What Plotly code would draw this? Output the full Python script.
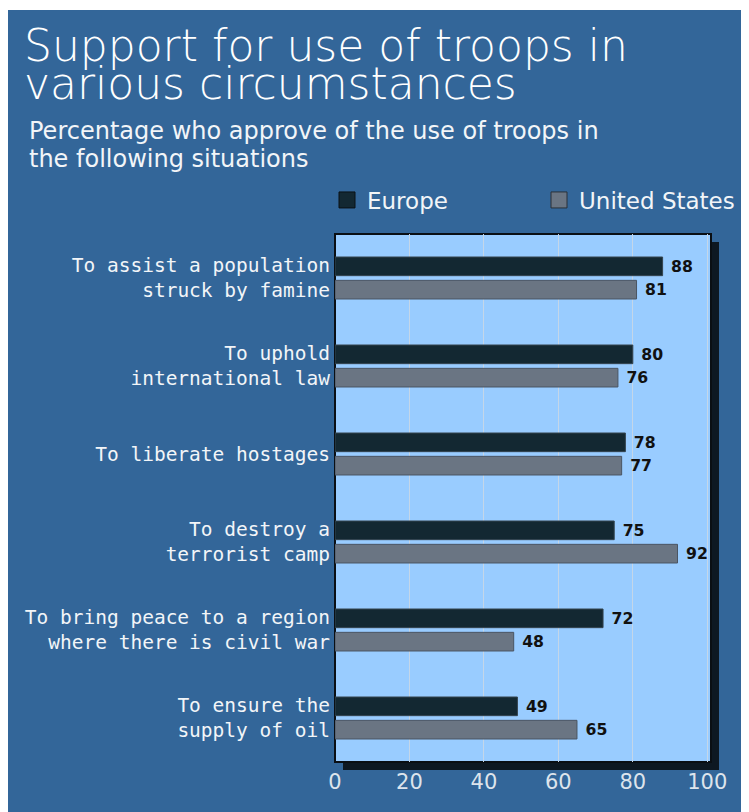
import plotly.graph_objects as go

categories = [
    "To assist a population<br>struck by famine",
    "To uphold<br>international law",
    "To liberate hostages",
    "To destroy a<br>terrorist camp",
    "To bring peace to a region<br>where there is civil war",
    "To ensure the<br>supply of oil",
]
europe = [88, 80, 78, 75, 72, 49]
united_states = [81, 76, 77, 92, 48, 65]
x_ticks = [0, 20, 40, 60, 80, 100]

W, H = 749, 812
OFF = 8  # page body margin
L, R, T, B = 335 - OFF, 711 - OFF, 234 - OFF, 762 - OFF  # plot area (figure px)

def px(x):  # reference pixel x -> paper
    return (x - OFF - L) / (R - L)

def py(y):  # reference pixel y -> paper
    return (B - (y - OFF)) / (B - T)

BG = "#336699"
PLOT_BG = "#99ccff"
EU_C = "#132832"
US_C = "#6a7583"
LABEL_FONT = dict(family="DejaVu Sans", size=16, color="#111111", weight="bold")

fig = go.Figure()
fig.add_trace(go.Bar(
    y=categories, x=europe, name="Europe", orientation="h", legendgroup="eu",
    showlegend=False,
    marker=dict(color=EU_C, line=dict(color="#34444f", width=1)),
    text=europe, texttemplate="\u00a0%{x}", textposition="outside", cliponaxis=False,
    textfont=LABEL_FONT,
))
fig.add_trace(go.Bar(
    y=categories, x=united_states, name="United States", orientation="h",
    legendgroup="us", showlegend=False,
    marker=dict(color=US_C, line=dict(color="#4a5563", width=1)),
    text=united_states, texttemplate="\u00a0%{x}", textposition="outside", cliponaxis=False,
    textfont=LABEL_FONT,
))
# legend entries (large square swatches)
fig.add_trace(go.Scatter(
    x=[None], y=[None], mode="markers", name="Europe", legendgroup="eu", legend="legend",
    marker=dict(symbol="square", size=22, color=EU_C, line=dict(color="#0a1015", width=1)),
))
fig.add_trace(go.Scatter(
    x=[None], y=[None], mode="markers", name="United States", legendgroup="us", legend="legend2",
    marker=dict(symbol="square", size=22, color=US_C, line=dict(color="#2a3038", width=1)),
))

shapes = [
    # shadow
    dict(type="rect", xref="paper", yref="paper", layer="below",
         x0=px(335 + 8), x1=px(711 + 8), y0=py(762 + 8), y1=py(234 + 8),
         fillcolor="#0d1822", line=dict(width=0)),
    # plot area
    dict(type="rect", xref="paper", yref="paper", layer="below",
         x0=0, x1=1, y0=0, y1=1,
         fillcolor=PLOT_BG, line=dict(color="#0a0f14", width=2)),
    # thin white strip at top
    dict(type="rect", xref="paper", yref="paper", layer="above",
         x0=px(0), x1=px(W + 20), y0=py(10), y1=py(0),
         fillcolor="white", line=dict(width=0)),
]

TITLE_FONT = dict(family="DejaVu Sans", size=44, color="white", weight=200)
SUB_FONT = dict(family="DejaVu Sans", size=24, color="#f2f5f8")
annotations = [
    dict(text="Support for use of troops in", xref="paper", yref="paper",
         x=px(22), y=py(45), xanchor="left", yanchor="middle", showarrow=False, font=TITLE_FONT),
    dict(text="various circumstances", xref="paper", yref="paper",
         x=px(22), y=py(83), xanchor="left", yanchor="middle", showarrow=False, font=TITLE_FONT),
    dict(text="Percentage who approve of the use of troops in", xref="paper", yref="paper",
         x=px(27), y=py(131), xanchor="left", yanchor="middle", showarrow=False, font=SUB_FONT),
    dict(text="the following situations", xref="paper", yref="paper",
         x=px(27), y=py(159), xanchor="left", yanchor="middle", showarrow=False, font=SUB_FONT),
]

LEG_FONT = dict(family="DejaVu Sans", size=23, color="#f2f5f8")
fig.update_layout(
    width=W, height=H,
    margin=dict(l=L, r=W - R, t=T, b=H - B, pad=0),
    paper_bgcolor=BG, plot_bgcolor="rgba(0,0,0,0)",
    barmode="group", bargap=0.47, bargroupgap=0.2,
    shapes=shapes, annotations=annotations,
    showlegend=True,
    legend=dict(x=px(327), y=py(200), xanchor="left", yanchor="middle",
                font=LEG_FONT, bgcolor="rgba(0,0,0,0)", itemclick=False),
    legend2=dict(x=px(539), y=py(200), xanchor="left", yanchor="middle",
                 font=LEG_FONT, bgcolor="rgba(0,0,0,0)", itemclick=False),
    xaxis=dict(range=[0, 101], tickvals=x_ticks, showgrid=True, gridcolor="#c4d6e8",
               gridwidth=1, zeroline=False, showline=False, ticks="",
               ticklabelstandoff=5,
               tickfont=dict(family="DejaVu Sans", size=21, color="#dde4ec")),
    yaxis=dict(autorange="reversed", showgrid=False, ticks="", ticklen=0,
               showline=False, ticklabelstandoff=4,
               tickfont=dict(family="DejaVu Sans Mono", size=19.5, color="#f2f5f8")),
)

fig.write_html("out.html")
